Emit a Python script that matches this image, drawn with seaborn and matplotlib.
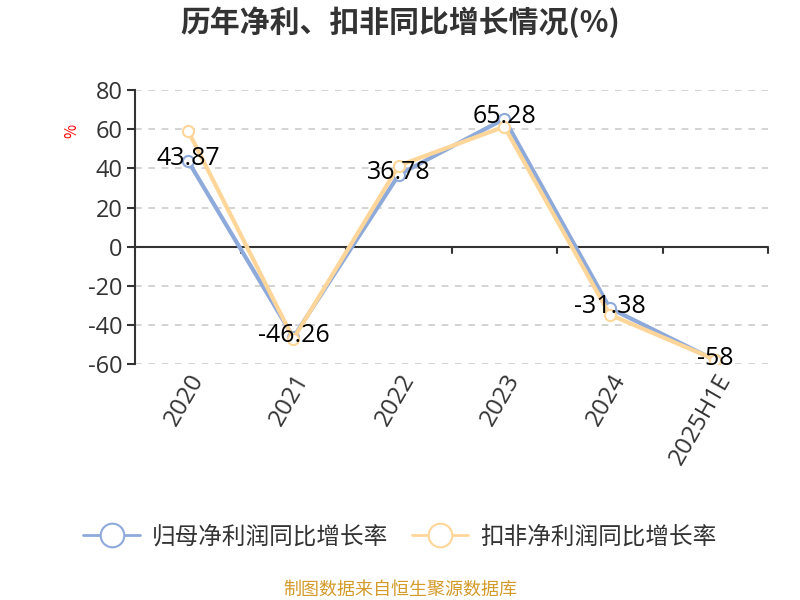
import pandas as pd
import matplotlib
matplotlib.use("Agg")
import matplotlib.pyplot as plt
import seaborn as sns

# chart data
years = ["2020", "2021", "2022", "2023", "2024", "2025H1E"]
parent_growth = [43.87, -46.26, 36.78, 65.28, -31.38, -58]
deducted_growth = [59.3, -47.0, 41.4, 61.3, -34.7, -57.7]
series_names = ["归母净利润同比增长率", "扣非净利润同比增长率"]
y_ticks = [-60, -40, -20, 0, 20, 40, 60, 80]

sns.set_theme(style="white")
plt.rcParams['font.family'] = ['Noto Sans CJK SC', 'DejaVu Sans']
plt.rcParams['axes.unicode_minus'] = False
num_font = ['Open Sans', 'Noto Sans CJK SC']

# long format table for seaborn
df = pd.DataFrame({
    "year": years * 2,
    "value": parent_growth + deducted_growth,
    "series": [series_names[0]] * len(years) + [series_names[1]] * len(years),
})

colors = {series_names[0]: "#8eaadb", series_names[1]: "#ffd699"}

fig = plt.figure(figsize=(8, 6), dpi=100)
ax = fig.add_axes([0.169, 0.393, 0.791, 0.457])

# dashed grid lines (skip zero, drawn as axis line)
for t in y_ticks:
    if t != 0:
        ax.axhline(t, color="#cccccc", linestyle=(0, (4, 4)), linewidth=1.2, zorder=0)

n_before = len(ax.get_lines())
sns.lineplot(data=df, x="year", y="value", hue="series", palette=colors,
             sort=False, linewidth=3, marker="o", markersize=8,
             markerfacecolor="white", markeredgewidth=1.5, ax=ax, legend=False)
# marker edge colors
for line, name in zip(ax.get_lines()[n_before:], series_names):
    line.set_markeredgecolor(colors[name])
    line.set_zorder(3)

# data labels for first series
for i, v in enumerate(parent_growth):
    ax.text(i, v + 1, f"{v:g}", ha="center", va="center", fontsize=18, color="black",
            family=num_font, zorder=5)

ax.set_xlim(-0.5, len(years) - 0.5)
ax.set_ylim(-60, 80)
ax.set_yticks(y_ticks)
ax.tick_params(axis="y", labelsize=17, labelcolor="#333333", length=6, width=1.5,
               color="#333333", left=True, direction="out", pad=3)
ax.tick_params(axis="x", labelsize=17.5, labelcolor="#333333", length=0, pad=4)
plt.setp(ax.get_xticklabels(), rotation=60, ha="right", rotation_mode="anchor", family=num_font)
plt.setp(ax.get_yticklabels(), family=num_font)
ax.set_xlabel("")
ax.set_ylabel("")

for s in ["top", "right", "bottom"]:
    ax.spines[s].set_visible(False)
ax.spines["left"].set_color("#333333")
ax.spines["left"].set_linewidth(1.5)

# zero line with category boundary ticks
ax.axhline(0, color="#333333", linewidth=1.5, zorder=1)
for b in range(len(years)):
    ax.plot([b + 0.5, b + 0.5], [0, -3], color="#333333", linewidth=1.5, clip_on=False)

fig.text(0.09, 0.782, "%", color="red", fontsize=11, rotation=90, ha="center", va="center")
fig.text(0.5, 0.963, "历年净利、扣非同比增长情况(%)", fontsize=21.5, fontweight="bold",
         color="#333333", ha="center", va="center")

handles = [plt.Line2D([], [], color=colors[n], linewidth=2, marker="o", markersize=17,
                      markerfacecolor="white", markeredgewidth=1.5) for n in series_names]
fig.legend(handles, series_names, loc="center", bbox_to_anchor=(0.5, 0.105), ncol=2,
           frameon=False, fontsize=17, handlelength=2.4, columnspacing=1.0,
           handletextpad=0.5, labelcolor="#333333")

fig.text(0.5, 0.018, "制图数据来自恒生聚源数据库", fontsize=13, color="#d49a2a",
         ha="center", va="center")

fig.savefig("out.png", dpi=100)
